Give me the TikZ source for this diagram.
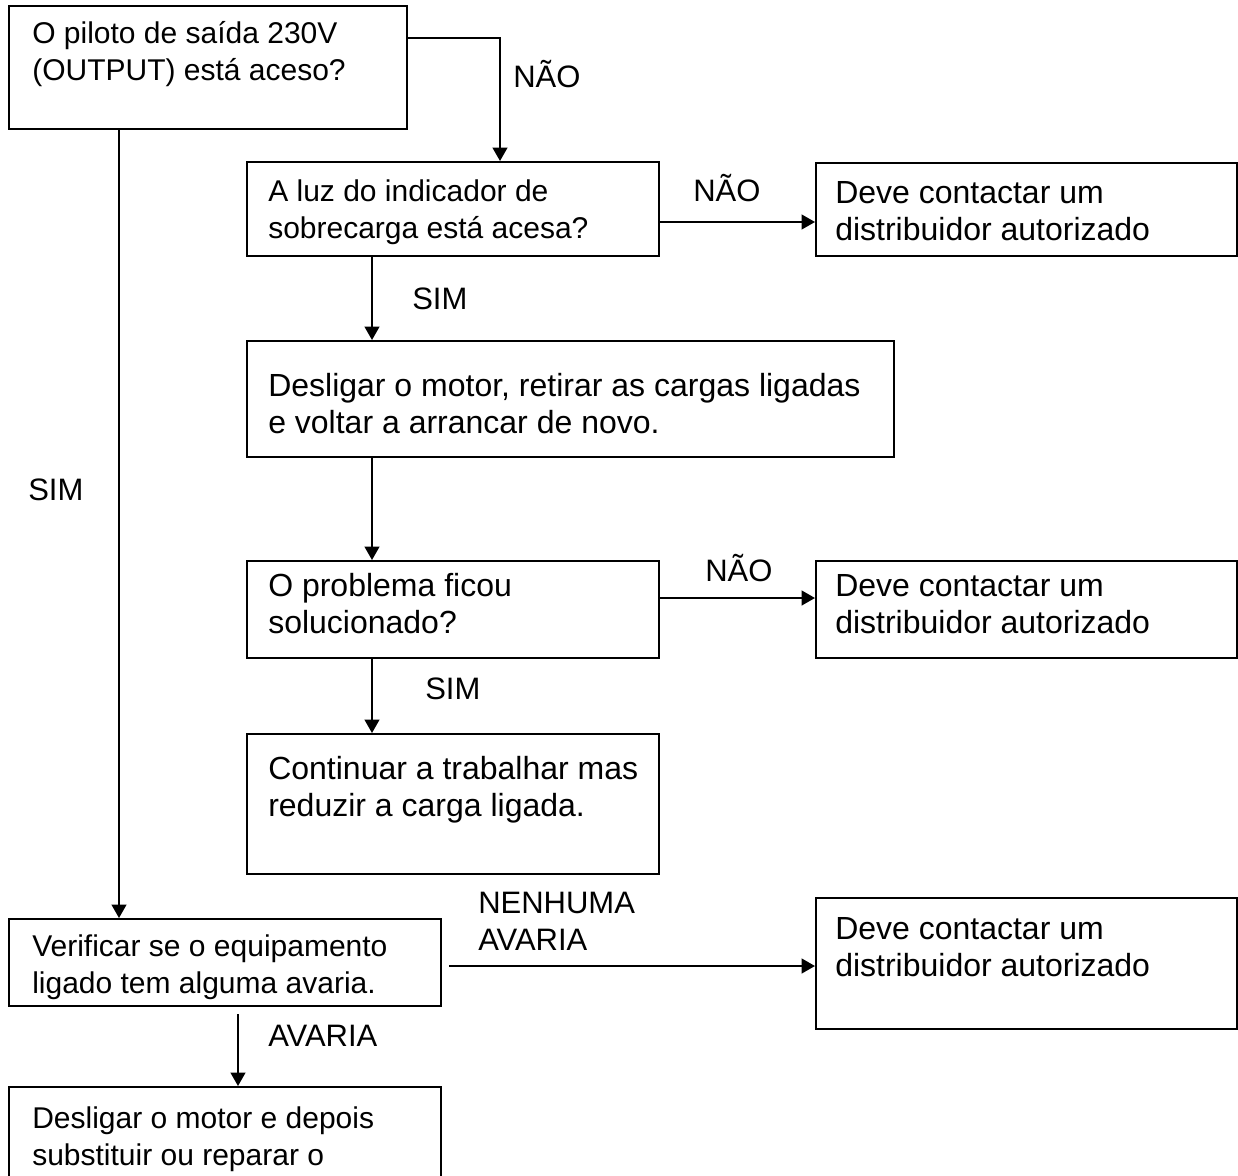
\documentclass[tikz,border=0pt]{standalone}
\usepackage{fontspec}
\setmainfont{Liberation Sans}
\usetikzlibrary{arrows.meta}
\begin{document}
\begin{tikzpicture}[x=0.75pt,y=-0.75pt,
  box/.style 2 args={draw, line width=1.5pt, rectangle, inner sep=0pt, anchor=north west,
    minimum width=#1*0.75pt, minimum height=#2*0.75pt},
  txtS/.style={anchor=north west, inner sep=0pt, align=left, font=\fontsize{22.5}{27.75}\selectfont},
  txtL/.style={anchor=north west, inner sep=0pt, align=left, font=\fontsize{24}{27.75}\selectfont},
  lbl/.style={anchor=base west, inner sep=0pt, font=\fontsize{23.25}{27.75}\selectfont},
  lblm/.style={anchor=north west, inner sep=0pt, align=left, font=\fontsize{23.25}{27.75}\selectfont},
  arr/.style={line width=1.5pt, -{Triangle[length=10pt,width=11pt]}}
]
\useasboundingbox (0,0) rectangle (1238,1175);
\fill[white] (0,0) rectangle (1238,1175);
\clip (0,0) rectangle (1238,1175);

% boxes
\node[box={398}{123}] (b1) at (8,5) {};
\node[box={412}{94}] (b2) at (246,161) {};
\node[box={421}{93}] (b3) at (815,162) {};
\node[box={647}{116}] (b4) at (246,340) {};
\node[box={412}{97}] (b5) at (246,560) {};
\node[box={421}{97}] (b6) at (815,560) {};
\node[box={412}{140}] (b7) at (246,733) {};
\node[box={432}{87}] (b8) at (8,918) {};
\node[box={421}{131}] (b9) at (815,897) {};
\node[box={432}{150}] (b10) at (8,1086) {};

% box texts
\node[txtS] (t1) at (32,17) {\strut O piloto de saída 230V\\(OUTPUT) está aceso?};
\node[txtS] (t2) at (268,175) {\strut A luz do indicador de\\sobrecarga está acesa?};
\node[txtL] (t3) at (835,177) {\strut Deve contactar um\\distribuidor autorizado};
\node[txtL] (t4) at (268,370) {\strut Desligar o motor, retirar as cargas ligadas\\e voltar a arrancar de novo.};
\node[txtL] (t5) at (268,570) {\strut O problema ficou\\solucionado?};
\node[txtL] (t6) at (835,570) {\strut Deve contactar um\\distribuidor autorizado};
\node[txtL] (t7) at (268,753) {\strut Continuar a trabalhar mas\\reduzir a carga ligada.};
\node[txtS] (t8) at (32,930) {\strut Verificar se o equipamento\\ligado tem alguma avaria.};
\node[txtL] (t9) at (835,913) {\strut Deve contactar um\\distribuidor autorizado};
\node[txtS] (t10) at (32,1102) {\strut Desligar o motor e depois\\substituir ou reparar o};

% labels
\node[lbl] (l1) at (513,87) {NÃO};
\node[lbl] (l2) at (693,201) {NÃO};
\node[lbl] (l3) at (412,309) {SIM};
\node[lbl] (l4) at (705,581) {NÃO};
\node[lbl] (l5) at (425,699) {SIM};
\node[lbl] (l6) at (28,500) {SIM};
\node[lblm] (l7) at (478,887) {\strut NENHUMA\\AVARIA};
\node[lbl] (l8) at (268,1046) {AVARIA};

% helper coordinates
\coordinate (k1) at (500,38);
\coordinate (y23) at (0,222);
\coordinate (y56) at (0,598);
\coordinate (y89) at (0,966);
\coordinate (xm) at (372,0);
\coordinate (xl) at (119,0);
\coordinate (xa) at (238,0);

% connectors
\draw[arr] (b1.east |- k1) -- (k1) -- (k1 |- b2.north);
\draw[arr] (b2.east |- y23) -- (b3.west |- y23);
\draw[arr] (xm |- b2.south) -- (xm |- b4.north);
\draw[arr] (xm |- b4.south) -- (xm |- b5.north);
\draw[arr] (b5.east |- y56) -- (b6.west |- y56);
\draw[arr] (xm |- b5.south) -- (xm |- b7.north);
\draw[arr] (xl |- b1.south) -- (xl |- b8.north);
\draw[arr, shorten <=5.25pt] (b8.east |- y89) -- (b9.west |- y89);
\draw[arr, shorten <=5.25pt] (xa |- b8.south) -- (xa |- b10.north);
\end{tikzpicture}
\end{document}
